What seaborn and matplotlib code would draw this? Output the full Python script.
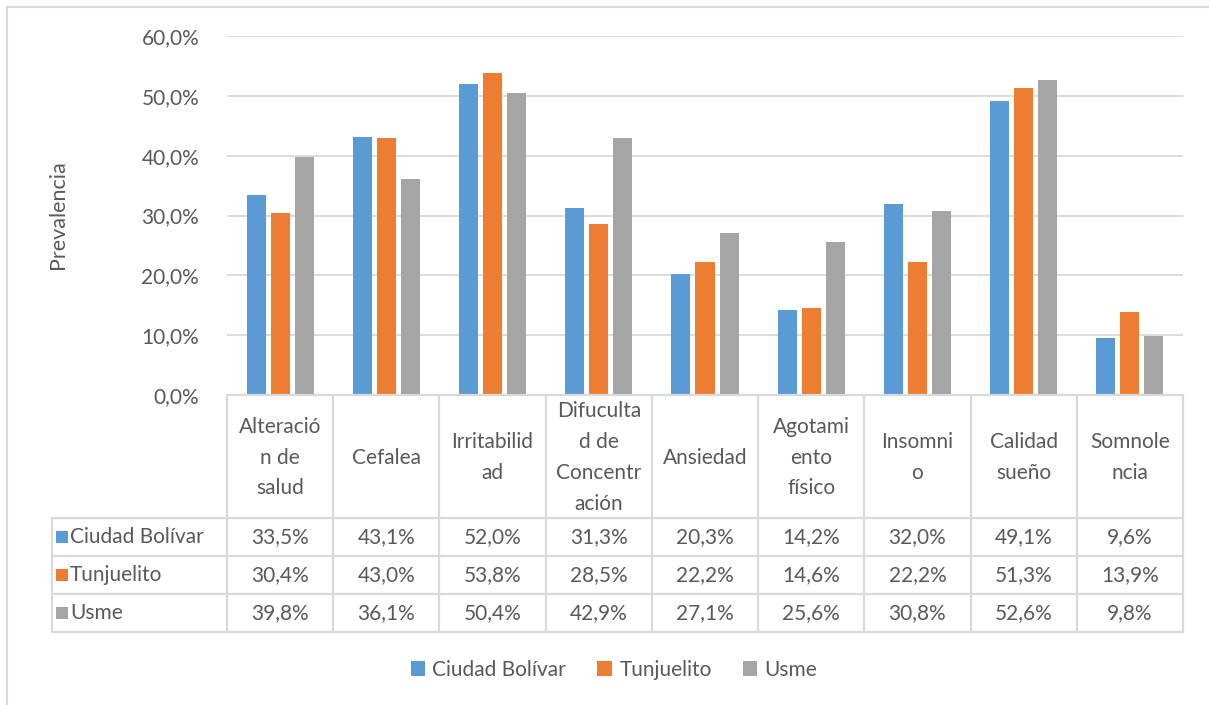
import pandas as pd
import seaborn as sns
import matplotlib.pyplot as plt
from matplotlib.lines import Line2D
from matplotlib.patches import Patch, Rectangle
from matplotlib.transforms import blended_transform_factory
from matplotlib.ticker import FuncFormatter

sns.set_theme(style="white")
plt.rcParams['font.family'] = ['Lato', 'DejaVu Sans']

# Datos (prevalencia en %)
categorias = ["Alteración de salud", "Cefalea", "Irritabilidad",
              "Difucultad de Concentración", "Ansiedad", "Agotamiento físico",
              "Insomnio", "Calidad sueño", "Somnolencia"]
# cabeceras de la tabla tal como las corta Excel
cabeceras = ["Alteració\nn de\nsalud", "Cefalea", "Irritabilid\nad",
             "Difuculta\nd de\nConcentr\nación", "Ansiedad", "Agotami\nento\nfísico",
             "Insomni\no", "Calidad\nsueño", "Somnole\nncia"]
series = ["Ciudad Bolívar", "Tunjuelito", "Usme"]
ciudad_bolivar = [33.5, 43.1, 52.0, 31.3, 20.3, 14.2, 32.0, 49.1, 9.6]
tunjuelito = [30.4, 43.0, 53.8, 28.5, 22.2, 14.6, 22.2, 51.3, 13.9]
usme = [39.8, 36.1, 50.4, 42.9, 27.1, 25.6, 30.8, 52.6, 9.8]
colores = ["#5B9BD5", "#ED7D31", "#A5A5A5"]

valores = [ciudad_bolivar, tunjuelito, usme]
df = pd.DataFrame({
    "categoria": categorias * 3,
    "serie": [s for s in series for _ in categorias],
    "valor": ciudad_bolivar + tunjuelito + usme,
})

W, H = 1209, 705
texto = "#595959"
linea = "#D9D9D9"
fs = 15

fig = plt.figure(figsize=(W / 100, H / 100), dpi=100)
fig.patch.set_facecolor("white")
ax = fig.add_axes([227 / W, 1 - 395 / H, 956 / W, 359 / H])

sns.barplot(data=df, x="categoria", y="valor", hue="serie", order=categorias,
            hue_order=series, palette=colores, saturation=1, width=0.68,
            gap=0.21, linewidth=0, ax=ax, legend=False)

ax.set_xlim(-0.5, len(categorias) - 0.5)
ax.set_ylim(0, 60)
ax.set_yticks(range(0, 61, 10))
ax.yaxis.set_major_formatter(FuncFormatter(lambda v, p: f"{v:.1f}%".replace(".", ",")))
ax.tick_params(axis="y", length=0, pad=20, labelsize=fs, labelcolor=texto)
ax.set_xticks([])
ax.set_xlabel("")
ax.set_ylabel("")
for s in ax.spines.values():
    s.set_visible(False)
ax.grid(axis="y", color=linea, linewidth=1.3)
ax.set_axisbelow(True)

fig.text(58 / W, 1 - 215 / H, "Prevalencia", rotation=90, ha="center",
         va="center", fontsize=fs + 0.5, color=texto)

# tabla de datos bajo el eje
tr = blended_transform_factory(ax.transData, fig.transFigure)
y_top = 1 - 395 / H
y_rows = [1 - 518 / H, 1 - 556 / H, 1 - 594 / H, 1 - 632 / H]
n = len(categorias)
lw = 1.6

fig.add_artist(Line2D([-0.5, n - 0.5], [y_top, y_top], transform=tr,
                      color=linea, lw=lw, clip_on=False))
for y in y_rows:
    fig.add_artist(Line2D([52 / W, 1183 / W], [y, y], transform=fig.transFigure,
                          color=linea, lw=lw, clip_on=False))
for i in range(n + 1):
    fig.add_artist(Line2D([i - 0.5, i - 0.5], [y_top, y_rows[-1]], transform=tr,
                          color=linea, lw=lw, clip_on=False))
fig.add_artist(Line2D([52 / W, 52 / W], [y_rows[0], y_rows[-1]],
                      transform=fig.transFigure, color=linea, lw=lw))

for i, cab in enumerate(cabeceras):
    fig.text(i, (y_top + y_rows[0]) / 2 - 1 / H, cab, transform=tr, ha="center",
             va="center", fontsize=fs, color=texto, linespacing=1.68,
             multialignment="center")

for r, (serie, vals, col) in enumerate(zip(series, valores, colores)):
    yc = (y_rows[r] + y_rows[r + 1]) / 2
    fig.add_artist(Rectangle((56 / W, yc - 6 / H), 12 / W, 12 / H,
                             transform=fig.transFigure, color=col, lw=0))
    fig.text(70 / W, yc, serie, ha="left", va="center", fontsize=fs, color=texto)
    for i, v in enumerate(vals):
        fig.text(i, yc, f"{v:.1f}%".replace(".", ","), transform=tr,
                 ha="center", va="center", fontsize=fs, color=texto)

# leyenda inferior
handles = [Patch(facecolor=c, edgecolor="none", label=s) for s, c in zip(series, colores)]
fig.legend(handles=handles, loc="center", bbox_to_anchor=(614 / W, 1 - 670 / H),
           ncol=3, frameon=False, fontsize=fs, labelcolor=texto,
           handlelength=0.7, handleheight=0.7, handletextpad=0.35,
           columnspacing=1.5)

# marco del area del grafico
fig.add_artist(Line2D([7 / W, 7 / W], [0, 1 - 7 / H], transform=fig.transFigure,
                      color=linea, lw=1.5))
fig.add_artist(Line2D([7 / W, 1], [1 - 7 / H, 1 - 7 / H], transform=fig.transFigure,
                      color=linea, lw=1.5))

fig.savefig("out.png", dpi=100, facecolor="white")
